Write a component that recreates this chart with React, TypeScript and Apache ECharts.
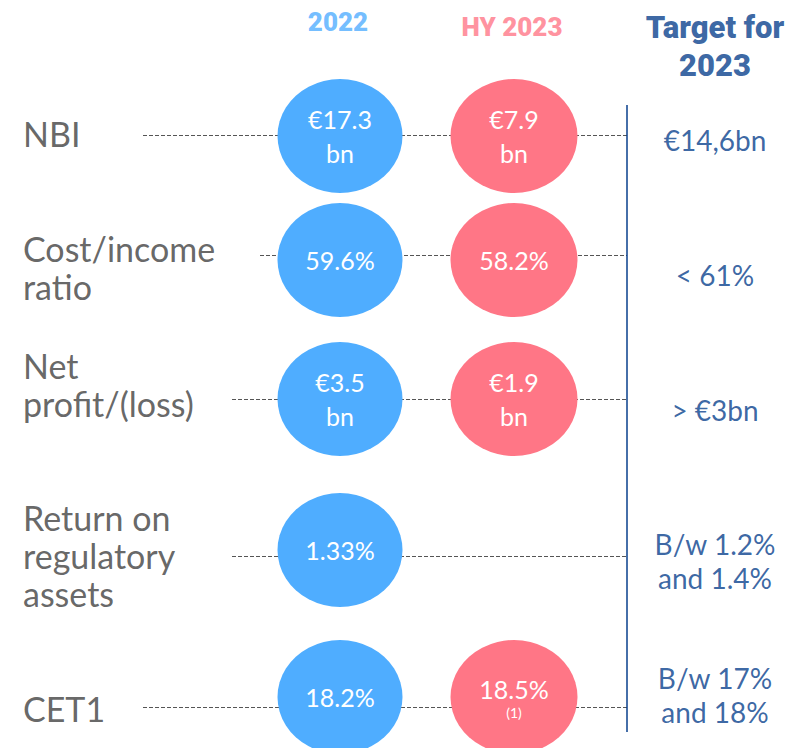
import React, { useEffect, useRef } from "react";
import * as echarts from "echarts";

// ---- data ----
const metrics = ["NBI", "Cost/income\nratio", "Net\nprofit/(loss)", "Return on\nregulatory\nassets", "CET1"];
const values2022 = ["€17.3\nbn", "59.6%", "€3.5\nbn", "1.33%", "18.2%"];
const valuesHY2023: (string | null)[] = ["€7.9\nbn", "58.2%", "€1.9\nbn", null, "18.5%"];
const footnotesHY2023 = ["", "", "", "", "(1)"];
const targets2023 = ["€14,6bn", "< 61%", "> €3bn", "B/w 1.2%\nand 1.4%", "B/w 17%\nand 18%"];
const columnHeaders = ["2022", "HY 2023", "Target for\n2023"];

// ---- layout (pixel space) ----
const W = 795;
const H = 748;
const labelX = 23;
const col2022X = 340;
const colHYX = 514;
const dividerX = 627;
const targetX = 715;
const headerX = [338, 512, 715];
const headerY = [22, 27, 46];
const rowCircleY = [136, 260, 399, 550, 697];
const rowLineY = [135, 255, 399, 556, 707];
const rowLabelY = [133, 267, 384, 555, 708];
const rowTargetY = [140, 275, 410, 561, 695];
const lineStartX = [143, 260, 232, 232, 143];
const dividerTop = 105;
const dividerBottom = 732;

const BLUE = "#4FADFF";
const PINK = "#FF7686";
const NAVY = "#083F8C";
const GREY = "#404040";

export default function App() {
  const ref = useRef<HTMLDivElement>(null);
  useEffect(() => {
    if (!ref.current) return;
    const chart = echarts.init(ref.current, null, { renderer: "svg" });
    const textSeriesBase = {
      type: "scatter" as const,
      symbolSize: 0,
      silent: true,
      emphasis: { disabled: true },
      z: 5,
    };
    chart.setOption({
      animation: false,
      grid: { left: 0, right: 0, top: 0, bottom: 0 },
      xAxis: { type: "value", min: 0, max: W, show: false },
      yAxis: { type: "value", min: 0, max: H, inverse: true, show: false },
      series: [
        {
          type: "lines",
          coordinateSystem: "cartesian2d",
          silent: true,
          z: 1,
          lineStyle: { color: "#555555", width: 1, type: [4, 2], opacity: 1 },
          data: metrics.map((_, i) => ({
            coords: [
              [lineStartX[i], rowLineY[i]],
              [dividerX, rowLineY[i]],
            ],
          })),
        },
        {
          type: "lines",
          coordinateSystem: "cartesian2d",
          silent: true,
          z: 2,
          lineStyle: { color: NAVY, width: 1.5, type: "solid", opacity: 1 },
          data: [
            {
              coords: [
                [dividerX, dividerTop],
                [dividerX, dividerBottom],
              ],
            },
          ],
        },
        {
          type: "scatter",
          symbol: "circle",
          symbolSize: [125, 114],
          silent: true,
          emphasis: { disabled: true },
          z: 3,
          itemStyle: { color: BLUE, opacity: 1 },
          label: {
            show: true,
            position: "inside",
            color: "#ffffff",
            fontFamily: "Lato",
            fontSize: 25,
            lineHeight: 34,
            formatter: (p: any) => p.value[2],
          },
          data: values2022.map((v, i) => [col2022X, rowCircleY[i], v]),
        },
        {
          type: "scatter",
          symbol: "circle",
          symbolSize: [127, 114],
          silent: true,
          emphasis: { disabled: true },
          z: 3,
          itemStyle: { color: PINK, opacity: 1 },
          label: {
            show: true,
            position: "inside",
            color: "#ffffff",
            fontFamily: "Lato",
            fontSize: 25,
            lineHeight: 34,
            formatter: (p: any) => {
              const note = p.value[3];
              if (note) return `{v|${p.value[2]}}\n{s|${note}}`;
              return p.value[2];
            },
            rich: {
              v: { color: "#ffffff", fontFamily: "Lato", fontSize: 25, lineHeight: 30 },
              s: { color: "#ffffff", fontFamily: "Lato", fontSize: 14, lineHeight: 16 },
            },
          },
          data: valuesHY2023
            .map((v, i) => (v == null ? null : [colHYX, rowCircleY[i], v, footnotesHY2023[i]]))
            .filter((d) => d !== null),
        },
        {
          ...textSeriesBase,
          label: {
            show: true,
            position: "right",
            distance: 0,
            color: GREY,
            fontFamily: "Lato",
            fontSize: 34,
            lineHeight: 38,
            align: "left",
            formatter: (p: any) => p.value[2],
          },
          data: metrics.map((m, i) => [labelX, rowLabelY[i], m]),
        },
        {
          ...textSeriesBase,
          label: {
            show: true,
            position: "inside",
            color: NAVY,
            fontFamily: "Lato",
            fontSize: 28,
            lineHeight: 34,
            align: "center",
            formatter: (p: any) => p.value[2],
          },
          data: targets2023.map((t, i) => [targetX, rowTargetY[i], t]),
        },
        {
          ...textSeriesBase,
          label: {
            show: true,
            position: "inside",
            fontFamily: "Roboto",
            fontWeight: 900,
            align: "center",
            formatter: (p: any) => p.value[2],
          },
          data: [
            { value: [headerX[0], headerY[0], columnHeaders[0]], label: { color: BLUE, fontSize: 26 } },
            { value: [headerX[1], headerY[1], columnHeaders[1]], label: { color: PINK, fontSize: 26 } },
            {
              value: [headerX[2], headerY[2], columnHeaders[2]],
              label: { color: NAVY, fontSize: 31, lineHeight: 38 },
            },
          ],
        },
      ],
    });
    return () => chart.dispose();
  }, []);
  return (
    <div
      ref={ref}
      style={{ position: "absolute", left: 0, top: 0, width: W, height: H, background: "#fff" }}
    />
  );
}
